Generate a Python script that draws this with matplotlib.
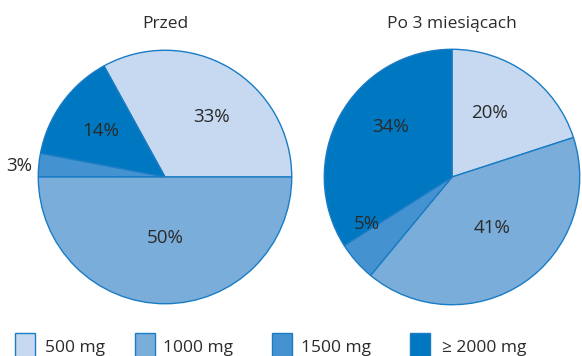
import matplotlib
matplotlib.use("Agg")
import matplotlib.pyplot as plt
from matplotlib.patches import Rectangle

plt.rcParams['font.family'] = ['Open Sans', 'DejaVu Sans']

# Dose categories and their colours
categories = ["500 mg", "1000 mg", "1500 mg", "\u2265 2000 mg"]
colors = ["#c6d9f0", "#7aadda", "#4493d0", "#0078c1"]
edge = "#1a7cc4"
text_color = "#2a2a2a"

# Share of patients per dose (%)
before = [33, 50, 3, 14]
after = [20, 41, 5, 34]

titles = ["Przed", "Po 3 miesi\u0105cach"]

W, H = 582, 356
fig = plt.figure(figsize=(W / 100, H / 100), dpi=100)


def px_axes(cx, cy, r):
    return fig.add_axes([(cx - r) / W, (H - cy - r) / H, 2 * r / W, 2 * r / H])


def draw_pie(ax, values, cols, start, counterclock, label_pos):
    ax.pie(values, colors=cols, startangle=start, counterclock=counterclock,
           radius=1.0, wedgeprops=dict(edgecolor=edge, linewidth=1.0))
    ax.set_xlim(-1.01, 1.01)
    ax.set_ylim(-1.01, 1.01)
    ax.set_aspect("equal")
    ax.axis("off")
    for v, (x, y) in zip(values, label_pos):
        ax.text(x, y, f"{v}%", ha="center", va="center", fontsize=13.5,
                color=text_color)


# Left pie: counter-clockwise from 3 o'clock (500, 2000, 1500, 1000)
ax1 = px_axes(165, 177, 128)
order1 = [0, 3, 2, 1]
draw_pie(ax1, [before[i] for i in order1], [colors[i] for i in order1], 0, True,
         [(0.37, 0.47), (-0.51, 0.36), (-1.15, 0.09), (0.0, -0.48)])

# Right pie: clockwise from 12 o'clock
ax2 = px_axes(452, 177, 129)
draw_pie(ax2, after, colors, 90, False,
         [(0.29, 0.50), (0.31, -0.40), (-0.67, -0.37), (-0.48, 0.39)])

for t, cx in zip(titles, [165, 452]):
    fig.text(cx / W, 1 - 24 / H, t, ha="center", va="center", fontsize=12.5,
             color=text_color)

# Legend row along the bottom edge
box_x = [15, 135, 272, 410]
text_x = [45, 163, 301, 442]
for c, name, bx, tx in zip(colors, categories, box_x, text_x):
    fig.patches.append(Rectangle((bx / W, (H - 356 - 2) / H), 20 / W, 25 / H,
                                 transform=fig.transFigure, facecolor=c,
                                 edgecolor=edge, linewidth=1.0))
    fig.text(tx / W, 1 - 348 / H, name, ha="left", va="center", fontsize=12.5,
             color=text_color)

fig.savefig("out.png", dpi=100)
